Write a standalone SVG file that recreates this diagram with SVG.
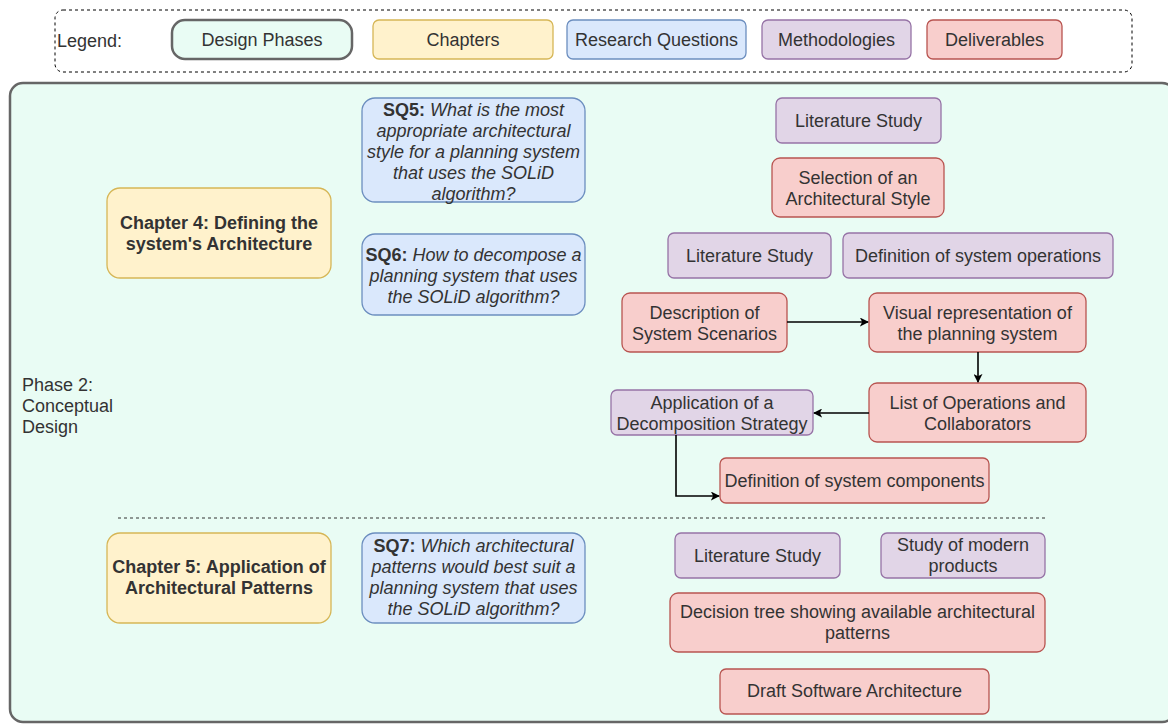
<svg xmlns="http://www.w3.org/2000/svg" width="1168" height="724" viewBox="0 0 1168 724">
  <defs>
    <style>
      text { font-family: "Liberation Sans", Arial, sans-serif; font-size: 18px; fill: #333333; text-anchor: middle; }
      .left { text-anchor: start; }
      .b { font-weight: bold; }
      .i { font-style: italic; }
      .phase { fill: #e9fcf4; stroke: #666666; stroke-width: 2.5; }
      .chap { fill: #fff2cc; stroke: #d6b656; stroke-width: 1.3; }
      .rq { fill: #dae8fc; stroke: #6c8ebf; stroke-width: 1.3; }
      .meth { fill: #e1d5e7; stroke: #9673a6; stroke-width: 1.3; }
      .deliv { fill: #f8cecc; stroke: #b85450; stroke-width: 1.3; }
      .edge { fill: none; stroke: #000000; stroke-width: 1.6; marker-end: url(#arrow); }
    </style>
    <marker id="arrow" viewBox="0 0 10 10" refX="9" refY="5" markerWidth="9" markerHeight="9" markerUnits="userSpaceOnUse" orient="auto">
      <path d="M0,0 L10,5 L0,10 L2.5,5 Z" fill="#000000"/>
    </marker>
  </defs>

  <!-- Legend -->
  <g id="legend">
    <rect x="55" y="10" width="1077" height="62" rx="8" fill="none" stroke="#000000" stroke-width="1" stroke-dasharray="3 3"/>
    <text class="left" x="57" y="47">Legend:</text>
    <g id="legend-phase">
      <rect class="phase" x="172" y="20" width="180" height="39" rx="13"/>
      <text x="262" y="46">Design Phases</text>
    </g>
    <g id="legend-chapter">
      <rect class="chap" x="373" y="20" width="180" height="39" rx="6"/>
      <text x="463" y="46">Chapters</text>
    </g>
    <g id="legend-rq">
      <rect class="rq" x="567" y="20" width="179" height="39" rx="6"/>
      <text x="656.5" y="46">Research Questions</text>
    </g>
    <g id="legend-meth">
      <rect class="meth" x="762" y="20" width="149" height="39" rx="6"/>
      <text x="836.5" y="46">Methodologies</text>
    </g>
    <g id="legend-deliv">
      <rect class="deliv" x="927" y="20" width="135" height="39" rx="6"/>
      <text x="994.5" y="46">Deliverables</text>
    </g>
  </g>

  <!-- Phase container -->
  <g id="phase2">
    <rect class="phase" x="10" y="83" width="1165" height="639" rx="13"/>
    <text class="left" x="22" y="391">Phase 2:</text>
    <text class="left" x="22" y="412">Conceptual</text>
    <text class="left" x="22" y="433">Design</text>
    <line x1="118" y1="518" x2="1045" y2="518" stroke="#333333" stroke-width="1" stroke-dasharray="3 3"/>
  </g>

  <!-- Chapter 4 -->
  <g id="chapter4">
    <rect class="chap" x="107" y="188" width="224" height="90" rx="13"/>
    <text class="b" x="219" y="229">Chapter 4: Defining the</text>
    <text class="b" x="219" y="250">system's Architecture</text>
  </g>

  <g id="sq5">
    <rect class="rq" x="362" y="98" width="223" height="104" rx="13"/>
    <text x="473.5" y="116"><tspan class="b">SQ5:</tspan><tspan class="i"> What is the most</tspan></text>
    <text class="i" x="473.5" y="137">appropriate architectural</text>
    <text class="i" x="473.5" y="158">style for a planning system</text>
    <text class="i" x="473.5" y="179">that uses the SOLiD</text>
    <text class="i" x="473.5" y="200">algorithm?</text>
  </g>

  <g id="sq6">
    <rect class="rq" x="362" y="234" width="223" height="81" rx="13"/>
    <text x="473.5" y="261"><tspan class="b">SQ6:</tspan><tspan class="i"> How to decompose a</tspan></text>
    <text class="i" x="473.5" y="282">planning system that uses</text>
    <text class="i" x="473.5" y="303">the SOLiD algorithm?</text>
  </g>

  <g id="lit-study-1">
    <rect class="meth" x="776" y="98" width="165" height="45" rx="6"/>
    <text x="858.5" y="127">Literature Study</text>
  </g>

  <g id="selection-style">
    <rect class="deliv" x="772" y="158" width="172" height="59" rx="8"/>
    <text x="858" y="184">Selection of an</text>
    <text x="858" y="205">Architectural Style</text>
  </g>

  <g id="lit-study-2">
    <rect class="meth" x="668" y="233" width="163" height="45" rx="6"/>
    <text x="749.5" y="262">Literature Study</text>
  </g>

  <g id="def-operations">
    <rect class="meth" x="843" y="233" width="270" height="45" rx="6"/>
    <text x="978" y="262">Definition of system operations</text>
  </g>

  <g id="system-scenarios">
    <rect class="deliv" x="622" y="293" width="165" height="59" rx="8"/>
    <text x="704.5" y="319">Description of</text>
    <text x="704.5" y="340">System Scenarios</text>
  </g>

  <g id="visual-representation">
    <rect class="deliv" x="869" y="293" width="217" height="59" rx="8"/>
    <text x="977.5" y="319">Visual representation of</text>
    <text x="977.5" y="340">the planning system</text>
  </g>

  <g id="operations-collaborators">
    <rect class="deliv" x="869" y="383" width="217" height="59" rx="8"/>
    <text x="977.5" y="409">List of Operations and</text>
    <text x="977.5" y="430">Collaborators</text>
  </g>

  <g id="decomposition-strategy">
    <rect class="meth" x="611" y="390" width="202" height="45" rx="6"/>
    <text x="712" y="409">Application of a</text>
    <text x="712" y="430">Decomposition Strategy</text>
  </g>

  <g id="system-components">
    <rect class="deliv" x="720" y="458" width="269" height="45" rx="6"/>
    <text x="854.5" y="487">Definition of system components</text>
  </g>

  <!-- Chapter 5 -->
  <g id="chapter5">
    <rect class="chap" x="107" y="533" width="224" height="90" rx="13"/>
    <text class="b" x="219" y="573">Chapter 5: Application of</text>
    <text class="b" x="219" y="594">Architectural Patterns</text>
  </g>

  <g id="sq7">
    <rect class="rq" x="362" y="533" width="223" height="90" rx="13"/>
    <text x="473.5" y="552"><tspan class="b">SQ7:</tspan><tspan class="i"> Which architectural</tspan></text>
    <text class="i" x="473.5" y="573">patterns would best suit a</text>
    <text class="i" x="473.5" y="594">planning system that uses</text>
    <text class="i" x="473.5" y="615">the SOLiD algorithm?</text>
  </g>

  <g id="lit-study-3">
    <rect class="meth" x="675" y="533" width="165" height="45" rx="6"/>
    <text x="757.5" y="562">Literature Study</text>
  </g>

  <g id="modern-products">
    <rect class="meth" x="881" y="533" width="164" height="45" rx="6"/>
    <text x="963" y="551">Study of modern</text>
    <text x="963" y="572">products</text>
  </g>

  <g id="decision-tree">
    <rect class="deliv" x="670" y="593" width="375" height="59" rx="8"/>
    <text x="857.5" y="618">Decision tree showing available architectural</text>
    <text x="857.5" y="639">patterns</text>
  </g>

  <g id="draft-architecture">
    <rect class="deliv" x="720" y="669" width="269" height="45" rx="6"/>
    <text x="854.5" y="697">Draft Software Architecture</text>
  </g>

  <!-- Connectors -->
  <g id="connectors">
    <path class="edge" d="M787,322 L868,322"/>
    <path class="edge" d="M978,352 L978,382"/>
    <path class="edge" d="M869,413 L814,413"/>
    <path class="edge" d="M676,435 L676,496 L719,496"/>
  </g>
</svg>
